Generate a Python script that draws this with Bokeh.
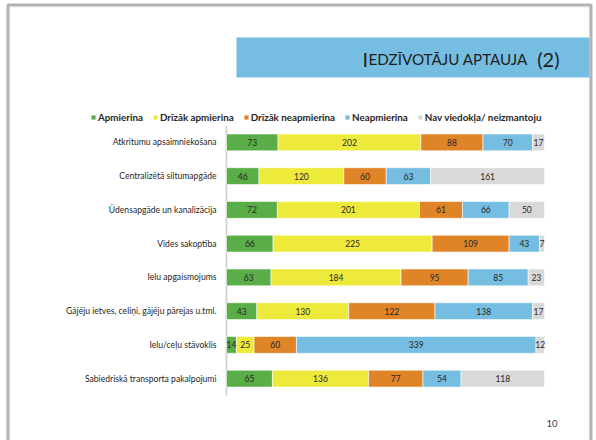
import numpy as np
from bokeh.plotting import figure
from bokeh.models import (ColumnDataSource, Range1d, Legend, LegendItem,
                          Label, BoxAnnotation)
from bokeh.core.properties import value
from bokeh.embed import file_html
from bokeh.resources import INLINE

# ---------------- data ----------------
categories = [
    "Atkritumu apsaimniekošana",
    "Centralizētā siltumapgāde",
    "Ūdensapgāde un kanalizācija",
    "Vides sakoptība",
    "Ielu apgaismojums",
    "Gājēju ietves, celiņi, gājēju pārejas u.tml.",
    "Ielu/ceļu stāvoklis",
    "Sabiedriskā transporta pakalpojumi",
]
apmierina = [73, 46, 72, 66, 63, 43, 14, 65]
drizak_apmierina = [202, 120, 201, 225, 184, 130, 25, 136]
drizak_neapmierina = [88, 60, 61, 109, 95, 122, 60, 77]
neapmierina = [70, 63, 66, 43, 85, 138, 339, 54]
nav_viedokla = [17, 161, 50, 7, 23, 17, 12, 118]
series_names = ["Apmierina", "Drīzāk apmierina", "Drīzāk neapmierina",
                "Neapmierina", "Nav viedokļa/ neizmantoju"]
title_text = ["I", "EDZĪVOTĀJU APTAUJA", "(2)"]
page_number = "10"

# ---------------- style / layout ----------------
colors = ["#5aae47", "#eeea3c", "#e08428", "#75bde1", "#d9d9d9"]
FONT = "Lato"
TXT = "#262626"
W, H = 596, 440
X0_PX, X1_PX = 226, 544          # pixel span of the full bar length
FIRST_ROW_PX, ROW_PX = 141.9, 33.75

series = [apmierina, drizak_apmierina, drizak_neapmierina, neapmierina, nav_viedokla]
keys = ["s0", "s1", "s2", "s3", "s4"]
n = len(categories)
ypos = list(range(n))

data = {"cat": categories, "yi": ypos}
for k, s in zip(keys, series):
    data[k] = s
src = ColumnDataSource(data)

total = max(sum(v) for v in zip(*series))
scale = (X1_PX - X0_PX) / total

p = figure(width=W, height=H, output_backend="svg", toolbar_location=None,
           x_range=Range1d(-X0_PX / scale, total + (W - X1_PX) / scale),
           y_range=Range1d(start=(H - FIRST_ROW_PX) / ROW_PX, end=-FIRST_ROW_PX / ROW_PX),
           x_axis_location=None, y_axis_location=None,
           min_border=0, min_border_left=0, min_border_right=0,
           min_border_top=0, min_border_bottom=0)
p.outline_line_color = None
p.grid.visible = False
p.background_fill_color = "white"
p.border_fill_color = "white"

# slide decorations
p.add_layout(BoxAnnotation(left=7.5, right=590.5, top=4.5, bottom=470,
                           left_units="canvas", right_units="canvas",
                           top_units="canvas", bottom_units="canvas",
                           fill_alpha=0, line_color="black", line_width=3))
p.add_layout(BoxAnnotation(left=9.5, right=588.5, top=6.5, bottom=470,
                           left_units="canvas", right_units="canvas",
                           top_units="canvas", bottom_units="canvas",
                           fill_alpha=0, line_color="#c8c8c8", line_width=1))
p.add_layout(BoxAnnotation(left=236, right=589, top=37, bottom=77,
                           left_units="canvas", right_units="canvas",
                           top_units="canvas", bottom_units="canvas",
                           fill_color="#75bde1", fill_alpha=1, line_color=None))

# category axis (labels + axis line)
p.segment(x0=0, x1=0, y0=-0.5, y1=n - 0.5, line_color="#d0d0d0", line_width=1.7)
p.text(x=0, y="yi", text="cat", source=src, x_offset=-10, text_align="right",
       text_baseline="middle", text_font=value(FONT), text_font_size="8.6px",
       text_color=TXT)

renderers = p.hbar_stack(keys, y="yi", height=0.5, fill_color=colors, source=src,
                         line_color="white", line_width=0.6)

# value labels in segment centres
vals = np.array(series, dtype=float)
cum = np.cumsum(vals, axis=0)
mids = cum - vals / 2
lab = ColumnDataSource(dict(
    x=mids.flatten().tolist(),
    y=[i for _ in series for i in ypos],
    t=[str(int(v)) for v in vals.flatten()],
))
p.text(x="x", y="y", text="t", source=lab, text_align="center", text_baseline="middle",
       text_font=value(FONT), text_font_size="8.5px", text_color=TXT)

legend = Legend(items=[LegendItem(label=nm, renderers=[r]) for nm, r in zip(series_names, renderers)],
                orientation="horizontal", location=(90, 317))
legend.label_text_font = FONT
legend.label_text_font_size = "9.8px"
legend.label_text_font_style = "bold"
legend.label_text_color = TXT
legend.glyph_width = 6
legend.glyph_height = 6
legend.label_standoff = 2
legend.spacing = 9
legend.padding = 0
legend.margin = 0
legend.label_height = 10
legend.border_line_color = None
legend.background_fill_alpha = 0
p.add_layout(legend)

p.add_layout(Label(x=362, y=58, x_units="canvas", y_units="canvas", text=title_text[0],
                   text_font=FONT, text_font_size="20px", text_baseline="alphabetic",
                   text_color="#1f1f1f"))
p.add_layout(Label(x=368, y=58, x_units="canvas", y_units="canvas", text=title_text[1],
                   text_font=FONT, text_font_size="15.2px", text_baseline="alphabetic",
                   text_color="#1f1f1f"))
p.add_layout(Label(x=559, y=58, x_units="canvas", y_units="canvas", text=title_text[2],
                   text_font=FONT, text_font_size="20px", text_baseline="alphabetic",
                   text_align="right", text_color="#1f1f1f"))
p.add_layout(Label(x=557, y=423, x_units="canvas", y_units="canvas", text=page_number,
                   text_font=FONT, text_font_size="9.5px", text_baseline="middle",
                   text_align="right", text_color="#404040"))

open("out.html", "w").write(file_html(p, INLINE))
